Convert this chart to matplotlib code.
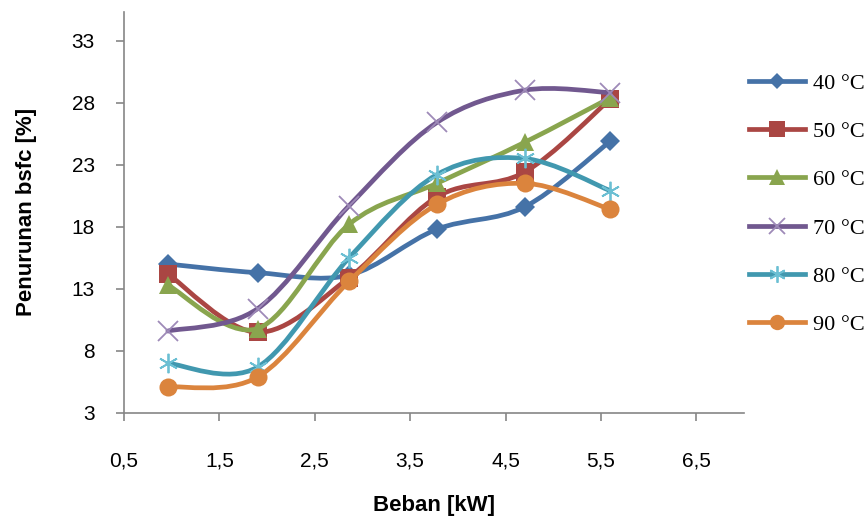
import matplotlib
matplotlib.use("Agg")
import matplotlib.pyplot as plt
from matplotlib.path import Path
from matplotlib.patches import PathPatch
from matplotlib.lines import Line2D
import numpy as np

# ---- data ----
beban = [0.96, 1.90, 2.86, 3.78, 4.70, 5.60]
s40 = [15.0, 14.3, 14.1, 17.8, 19.6, 24.9]
s50 = [14.2, 9.5, 13.9, 20.4, 22.4, 28.3]
s60 = [13.3, 9.8, 18.2, 21.5, 24.8, 28.4]
s70 = [9.6, 11.4, 19.7, 26.4, 29.0, 28.8]
s80 = [7.0, 6.7, 15.5, 22.2, 23.5, 20.9]
s90 = [5.1, 5.9, 13.6, 19.8, 21.5, 19.4]
series_labels = ["40 °C", "50 °C", "60 °C", "70 °C", "80 °C", "90 °C"]
xticks = [0.5, 1.5, 2.5, 3.5, 4.5, 5.5, 6.5]
xticklabels = ["0,5", "1,5", "2,5", "3,5", "4,5", "5,5", "6,5"]
yticks = [3, 8, 13, 18, 23, 28, 33]

all_series = [s40, s50, s60, s70, s80, s90]
line_colors = ["#4572A7", "#AA4643", "#89A54E", "#71588F", "#4198AF", "#DB843D"]
marker_colors = ["#4572A7", "#AA4643", "#89A54E", "#9E8AB8", "#6BBFD3", "#DB843D"]
markers = ["D", "s", "^", "x", (6, 2, 0), "o"]
msizes = [10, 13, 13, 14, 14, 13]

sans = "Liberation Sans"


def smooth_path(xs, ys):
    # Excel-style smoothed line: cubic Bezier with Catmull-Rom control points
    P = np.column_stack([xs, ys]).astype(float)
    n = len(P)
    verts = [P[0]]
    codes = [Path.MOVETO]
    for i in range(n - 1):
        p0 = P[i - 1] if i > 0 else P[i]
        p1 = P[i]
        p2 = P[i + 1]
        p3 = P[i + 2] if i + 2 < n else P[i + 1]
        c1 = p1 + (p2 - p0) / 6.0
        c2 = p2 - (p3 - p1) / 6.0
        verts += [c1, c2, p2]
        codes += [Path.CURVE4] * 3
    return Path(verts, codes)


W, H = 865, 524
fig = plt.figure(figsize=(W / 100, H / 100), dpi=100)
ax = fig.add_axes([124 / W, 1 - 413 / H, (744 - 124) / W, (413 - 12) / H])

handles = []
for k, ys in enumerate(all_series):
    patch = PathPatch(smooth_path(beban, ys), facecolor="none",
                      edgecolor=line_colors[k], lw=3.4, zorder=2 + k,
                      capstyle="round", joinstyle="round")
    ax.add_patch(patch)
    thin = k in (3, 4)
    mew = 1.3 if thin else 0.0
    ax.plot(beban, ys, linestyle="none", marker=markers[k], ms=msizes[k],
            color=marker_colors[k], mec=marker_colors[k], mew=mew, zorder=2 + k)
    handles.append(Line2D([0], [0], color=line_colors[k], lw=3.4, marker=markers[k],
                          ms=msizes[k] * 0.85, mfc=marker_colors[k],
                          mec=marker_colors[k], mew=mew))

ax.set_xlim(0.5, 7.0)
ax.set_ylim(3, 35.3)
ax.set_xticks(xticks)
ax.set_xticklabels(xticklabels)
ax.set_yticks(yticks)
ax.set_yticklabels([str(v) for v in yticks])

for side in ("top", "right"):
    ax.spines[side].set_visible(False)
for side in ("left", "bottom"):
    ax.spines[side].set_color("#868686")
    ax.spines[side].set_linewidth(1.2)
ax.tick_params(axis="both", direction="out", length=6, width=1.2, color="#868686",
               labelsize=15)
ax.tick_params(axis="y", pad=15)
ax.tick_params(axis="x", pad=22)
for t in ax.get_xticklabels() + ax.get_yticklabels():
    t.set_fontfamily(sans)

fig.text(27 / W, 1 - 212 / H, "Penurunan bsfc [%]", rotation=90, ha="center",
         va="center", fontsize=16, fontweight="bold", family=sans)
fig.text(434 / W, 1 - 506 / H, "Beban [kW]", ha="center", va="center",
         fontsize=16, fontweight="bold", family=sans)

leg = fig.legend(handles, series_labels, loc="upper left",
                 bbox_to_anchor=(749 / W, 1 - 73 / H), frameon=False,
                 borderpad=0, borderaxespad=0, handlelength=2.5,
                 handletextpad=0.4, labelspacing=1.25,
                 prop={"family": "Liberation Serif", "size": 16})

fig.savefig("out.png", dpi=100)
